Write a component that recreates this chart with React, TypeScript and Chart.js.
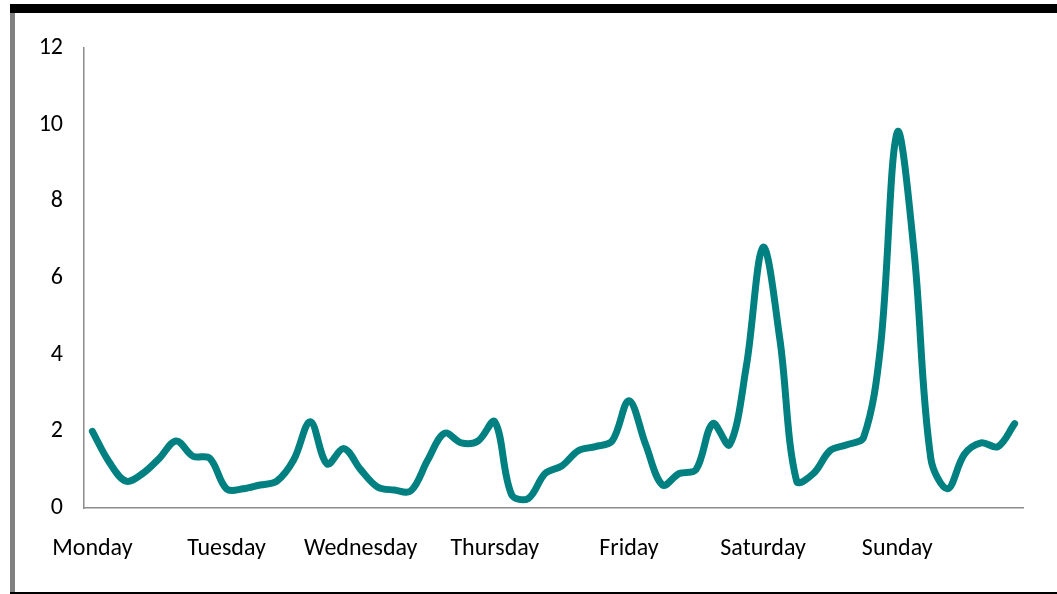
import React, { useEffect, useRef } from "react";
import { Chart, registerables } from "chart.js";

Chart.register(...registerables);

// Day names shown on the category axis
const days = ["Monday", "Tuesday", "Wednesday", "Thursday", "Friday", "Saturday", "Sunday"];
// Three-hour time slots within each day
const hours = ["00:00", "03:00", "06:00", "09:00", "12:00", "15:00", "18:00", "21:00"];
// One category per (day, slot)
const categories = days.flatMap((d) => hours.map((h) => `${d} ${h}`));

// Series values, one per category
const mondayValues = [2.0, 1.2, 0.7, 0.9, 1.3, 1.75, 1.35, 1.3];
const tuesdayValues = [0.5, 0.5, 0.6, 0.7, 1.25, 2.25, 1.15, 1.55];
const wednesdayValues = [1.0, 0.55, 0.47, 0.45, 1.25, 1.95, 1.7, 1.75];
const thursdayValues = [2.25, 0.35, 0.25, 0.9, 1.1, 1.5, 1.6, 1.75];
const fridayValues = [2.8, 1.65, 0.6, 0.9, 1.0, 2.2, 1.65, 3.7];
const saturdayValues = [6.8, 4.4, 0.7, 0.9, 1.5, 1.65, 1.85, 4.2];
const sundayValues = [9.8, 6.7, 1.3, 0.5, 1.4, 1.7, 1.6, 2.2];
const values = [
  ...mondayValues,
  ...tuesdayValues,
  ...wednesdayValues,
  ...thursdayValues,
  ...fridayValues,
  ...saturdayValues,
  ...sundayValues,
];

// Y axis tick settings
const yMin = 0;
const yMax = 12;
const yStep = 2;

const FONT = "Calibri, Carlito, Lato, sans-serif";

export default function App() {
  const canvasRef = useRef<HTMLCanvasElement | null>(null);

  useEffect(() => {
    document.body.style.margin = "0";
    const canvas = canvasRef.current;
    if (!canvas) return;
    const chart = new Chart(canvas, {
      type: "line",
      data: {
        labels: categories,
        datasets: [
          {
            data: values,
            borderColor: "#008080",
            backgroundColor: "#008080",
            borderWidth: 7,
            pointRadius: 0,
            pointHoverRadius: 0,
            tension: 0.35,
            borderCapStyle: "round",
            borderJoinStyle: "round",
            fill: false,
          },
        ],
      },
      options: {
        responsive: false,
        animation: false,
        events: [],
        layout: { padding: { left: 0, right: 34, top: 48, bottom: 0 } },
        plugins: {
          legend: { display: false },
          tooltip: { enabled: false },
        },
        scales: {
          x: {
            type: "category",
            offset: true,
            grid: { display: false, drawTicks: false },
            border: { display: true, color: "#8c8c8c", width: 1.5 },
            ticks: {
              autoSkip: false,
              maxRotation: 0,
              minRotation: 0,
              padding: 27,
              color: "#000000",
              font: { family: FONT, size: 24 },
              callback: (_v: any, index: number) =>
                index % hours.length === 0 ? days[index / hours.length] : null,
            },
            afterFit: (scale: any) => {
              scale.height = 86;
            },
          },
          y: {
            min: yMin,
            max: yMax,
            grid: { display: false, drawTicks: false },
            border: { display: true, color: "#8c8c8c", width: 1.5 },
            ticks: {
              stepSize: yStep,
              padding: 21,
              color: "#000000",
              font: { family: FONT, size: 24 },
            },
            afterFit: (scale: any) => {
              scale.width = 84;
            },
          },
        },
      },
    });
    return () => chart.destroy();
  }, []);

  return (
    <div style={{ position: "relative", width: 1057, height: 594, background: "#ffffff" }}>
      <canvas ref={canvasRef} width={1057} height={594} style={{ position: "absolute", left: 0, top: 0 }} />
      <div style={{ position: "absolute", left: 10, top: 4, width: 1047, height: 9, background: "#000000" }} />
      <div style={{ position: "absolute", left: 10, top: 13, width: 5, height: 579, background: "#808080" }} />
      <div style={{ position: "absolute", left: 10, top: 592, width: 1047, height: 2, background: "#000000" }} />
    </div>
  );
}
